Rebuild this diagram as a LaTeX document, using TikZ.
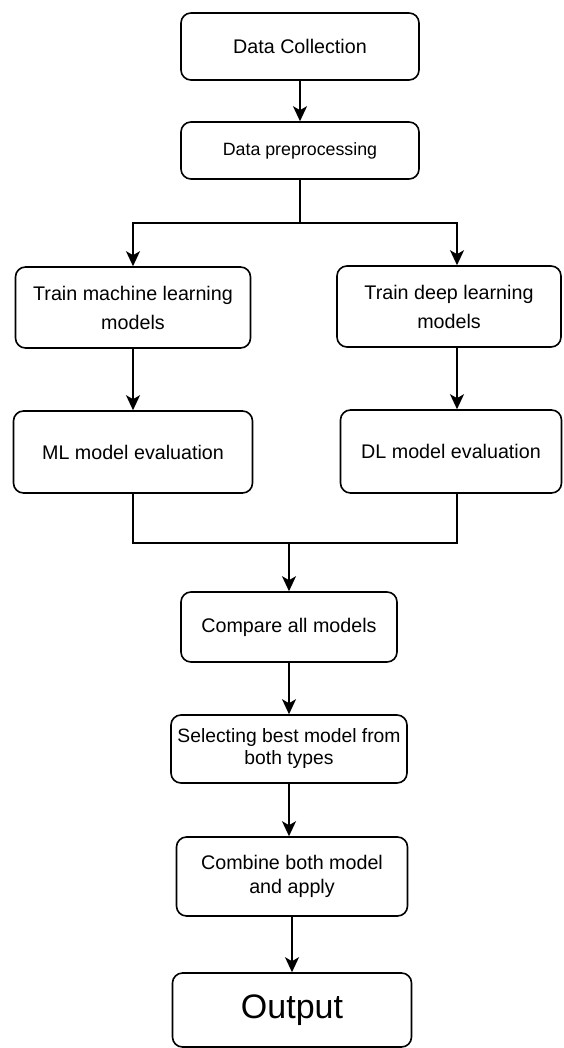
\documentclass[tikz,border=0pt]{standalone}
\usepackage{fontspec}
\setmainfont{Liberation Sans}
\usetikzlibrary{arrows.meta}

\tikzset{
	stage/.style={draw, rounded corners=10pt, line width=1.6pt, align=center, inner sep=0pt, font=\fontsize{19.7}{29}\selectfont},
	flow/.style={line width=1.6pt, -{Stealth[length=15pt, width=14pt, inset=4pt]}},
	link/.style={line width=1.6pt}
}

\begin{document}
\begin{tikzpicture}[x=1pt, y=-1pt]

	\useasboundingbox (0,0) rectangle (563,1048);

	\node[stage, minimum width=238pt, minimum height=67pt] (dc) at (300,46.5) {Data Collection};
	\node[stage, minimum width=238pt, minimum height=57pt, font=\fontsize{17.8}{22}\selectfont] (pre) at (300,150.5) {Data preprocessing};

	\node[stage, minimum width=235pt, minimum height=81pt] (trainml) at (133,307.5) {Train machine learning\\models};
	\node[stage, minimum width=224pt, minimum height=81pt] (traindl) at (449,306.5) {Train deep learning\\models};
	\node[stage, minimum width=239pt, minimum height=82pt] (evalml) at (133,452) {ML model evaluation};
	\node[stage, minimum width=221pt, minimum height=83pt] (evaldl) at (451,451.5) {DL model evaluation};

	\node[stage, minimum width=216pt, minimum height=70pt] (compare) at (289,627) {Compare all models};
	\node[stage, minimum width=236pt, minimum height=68pt, font=\fontsize{19.3}{22}\selectfont] (select) at (289,749) {Selecting best model from\\both types};
	\node[stage, minimum width=231pt, minimum height=79pt, font=\fontsize{19.7}{24}\selectfont] (combine) at (292,876.5) {Combine both model\\and apply};
	\node[stage, minimum width=239pt, minimum height=74pt, font=\fontsize{34}{40}\selectfont] (out) at (292,1010) {Output};

	\coordinate (split) at (300,223);
	\coordinate (splitL) at (133,223);
	\coordinate (splitR) at (457,223);
	\coordinate (merge) at (289,543);

	\draw[flow] (dc) -- (pre);
	\draw[link] (pre) -- (split);
	\draw[flow] (split) -- (splitL) -- (trainml);
	\draw[flow] (split) -- (splitR) -- (splitR |- traindl.north);

	\draw[flow] (trainml) -- (evalml);
	\draw[flow] (splitR |- traindl.south) -- (splitR |- evaldl.north);

	\draw[link] (evalml.south) |- (merge) -| (splitR |- evaldl.south);
	\draw[flow] (merge) -- (compare);
	\draw[flow] (compare) -- (select);
	\draw[flow] (select.south) -- (select.south |- combine.north);
	\draw[flow] (combine) -- (out);

\end{tikzpicture}
\end{document}
